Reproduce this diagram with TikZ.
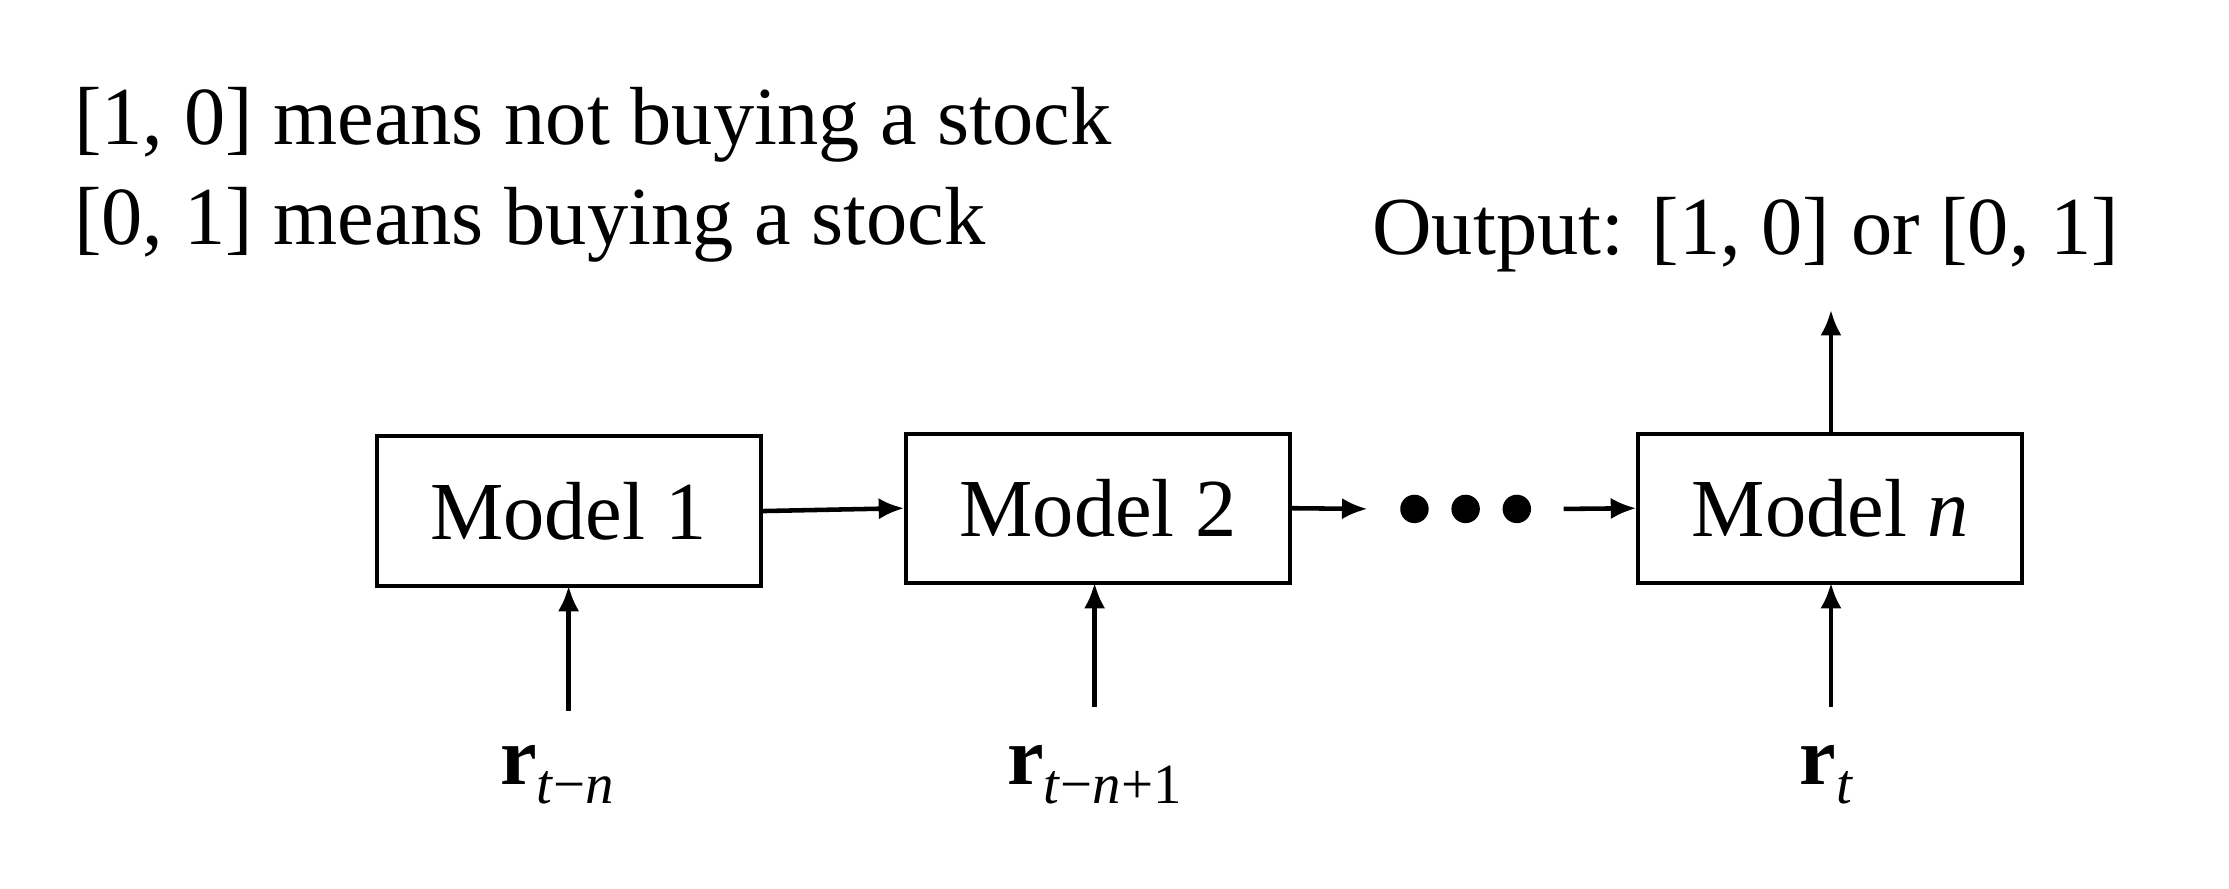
\documentclass[tikz,border=0pt]{standalone}
\usepackage{fontspec}
\setmainfont{Liberation Serif}
\usetikzlibrary{arrows.meta}
\newcommand{\subtxt}[1]{\raisebox{-14pt}{\fontsize{40}{40}\selectfont #1}}
\begin{document}
\begin{tikzpicture}[x=1pt,y=1pt,
  box/.style={draw,line width=2.8pt,minimum width=270pt,minimum height=105pt,inner sep=0pt,font=\fontsize{58}{68}\selectfont},
  lbl/.style={font=\fontsize{58}{68}\selectfont,inner sep=0pt},
  arr/.style={line width=3.2pt,-{Latex[length=18pt,width=15pt]}}]
\useasboundingbox (0,0) rectangle (1568,-625);
\node[box] (m1) at (400,-359.5) {Model 1};
\node[box] (m2) at (772.5,-357.5) {Model 2};
\node[box] (mn) at (1287.5,-357.5) {Model \textit{n}};
\node[lbl,minimum width=140pt,minimum height=20pt] (dots) at (1031,-358) {};
\foreach \x in {995,1031,1067} \fill (\x,-358) circle (10pt);
\coordinate (dl) at (962,-358);
\coordinate (dr) at (1100,-358);
\draw[arr] (m1.east) -- (m2.west);
\draw[arr] (m2.east) -- (dl);
\draw[arr] (dr) -- (mn.west);
\node[lbl] (r1) at (392,-545) {\textbf{r}\subtxt{\textit{t}−\textit{n}}};
\node[lbl] (r2) at (770,-545) {\textbf{r}\subtxt{\textit{t}−\textit{n}+1}};
\node[lbl] (rn) at (1285,-545) {\textbf{r}\subtxt{\textit{t}}};
\coordinate (a1) at (400,-500);
\coordinate (a2) at (770,-497);
\coordinate (an) at (1288,-497);
\draw[arr] (a1) -- (400,-412);
\draw[arr] (a2) -- (770,-410);
\draw[arr] (an) -- (1288,-410);
\node[lbl] (out) at (1228,-165) {Output: [1, 0] or [0, 1]};
\coordinate (o) at (1288,-218);
\draw[arr] (1288,-305) -- (o);
\node[lbl,anchor=west] (t1) at (52,-88) {[1, 0] means not buying a stock};
\node[lbl,anchor=west] (t2) at (52,-158) {[0, 1] means buying a stock};
\end{tikzpicture}
\end{document}
